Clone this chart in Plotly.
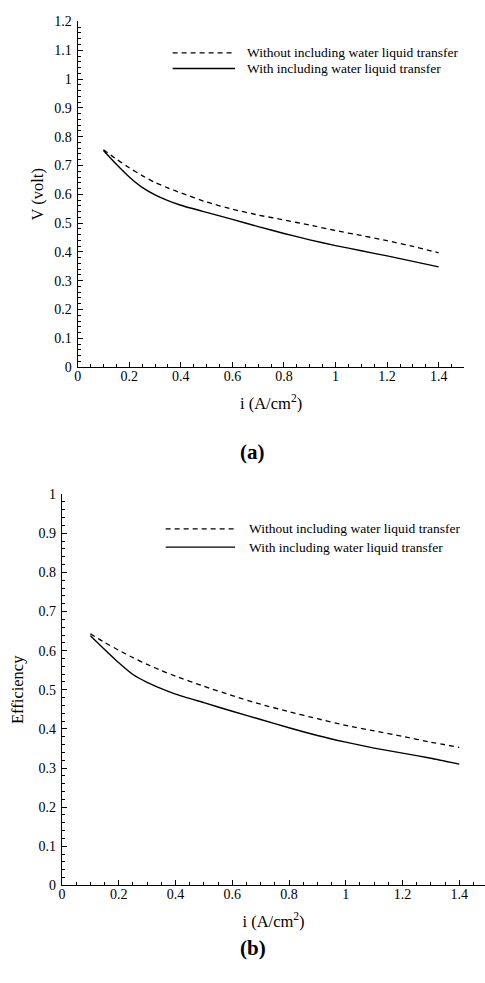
import plotly.graph_objects as go

# Current density (A/cm^2)
current = [0.1, 0.15, 0.2, 0.25, 0.3, 0.35, 0.4, 0.5, 0.6, 0.7, 0.8, 0.9, 1.0, 1.1, 1.2, 1.3, 1.4]

# (a) cell voltage (V)
volt_without = [0.755, 0.722, 0.692, 0.665, 0.641, 0.622, 0.605, 0.573, 0.548, 0.528, 0.511, 0.493, 0.474, 0.457, 0.439, 0.419, 0.397]
volt_with = [0.752, 0.704, 0.660, 0.624, 0.598, 0.578, 0.562, 0.537, 0.513, 0.488, 0.464, 0.442, 0.422, 0.404, 0.386, 0.367, 0.348]

# (b) efficiency
eff_without = [0.643, 0.621, 0.601, 0.582, 0.565, 0.549, 0.535, 0.509, 0.485, 0.463, 0.444, 0.426, 0.409, 0.395, 0.381, 0.366, 0.353]
eff_with = [0.638, 0.603, 0.569, 0.539, 0.519, 0.503, 0.489, 0.467, 0.445, 0.424, 0.403, 0.383, 0.366, 0.351, 0.338, 0.325, 0.310]

legend_labels = ["Without including water liquid transfer", "With including water liquid transfer"]

W, H = 485, 983
FONT = "Liberation Serif"

fig = go.Figure()

line_dash = dict(color="black", width=1.3, dash="5px,4px")
line_solid = dict(color="black", width=1.4)

for xs, ys, ln, xa, ya in (
    (current, volt_without, line_dash, "x", "y"),
    (current, volt_with, line_solid, "x", "y"),
    (current, eff_without, line_dash, "x2", "y2"),
    (current, eff_with, line_solid, "x2", "y2"),
):
    fig.add_trace(go.Scatter(x=xs, y=ys, mode="lines", line=dict(ln, shape="spline", smoothing=0.5),
                             xaxis=xa, yaxis=ya, showlegend=False, hoverinfo="skip"))


def px_x(p):
    return p / W


def px_y(p):
    return 1 - p / H


def axis_style(**kw):
    base = dict(
        showgrid=False, zeroline=False, showline=True, linecolor="black", linewidth=1.3,
        ticks="inside", ticklen=5, tickwidth=1.2, tickcolor="black",
        tickfont=dict(family=FONT, size=14, color="black"),
        title_font=dict(family=FONT, size=16.5, color="black"),
        fixedrange=True,
    )
    base.update(kw)
    return base


x_title = "i (A/cm<sup>2</sup>)"
minor_x = dict(dtick=0.05, ticks="inside", ticklen=3, tickcolor="black")
minor_y = dict(dtick=0.02, ticks="inside", ticklen=3, tickcolor="black")

fig.update_layout(
    width=W, height=H,
    margin=dict(l=0, r=0, t=0, b=0),
    paper_bgcolor="white", plot_bgcolor="white",
    xaxis=axis_style(domain=[px_x(74.3), px_x(464.3)], range=[0, 1.5], dtick=0.2,
                     minor=minor_x, ticklabelstandoff=-4,
                     anchor="y", title=dict(text=x_title, standoff=14)),
    yaxis=axis_style(domain=[px_y(365.7), px_y(14.7)], range=[0, 1.2], dtick=0.1,
                     minor=minor_y, ticklabelstandoff=2,
                     anchor="x", title=dict(text="V (volt)", standoff=6)),
    xaxis2=axis_style(domain=[px_x(58.5), 1.0], range=[0, (W - 58.5) / 286.1], dtick=0.2,
                      minor=minor_x, ticklabelstandoff=-4,
                      anchor="y2", title=dict(text=x_title, standoff=14)),
    yaxis2=axis_style(domain=[px_y(892), px_y(494.7)], range=[0, 1.0], dtick=0.1,
                      minor=minor_y, ticklabelstandoff=2,
                      anchor="x2", title=dict(text="Efficiency", standoff=10)),
)

# Panel captions
fig.add_annotation(text="<b>(a)</b>", x=px_x(250.7), y=px_y(452), xref="paper", yref="paper",
                   showarrow=False, font=dict(family=FONT, size=21, color="black"))
fig.add_annotation(text="<b>(b)</b>", x=px_x(251), y=px_y(970), xref="paper", yref="paper",
                   showarrow=False, font=dict(family=FONT, size=21, color="black"))

# Legends drawn as line samples with text next to them
legend_rows = [
    # (x0, x1, text_x, row1_y, row2_y)
    (170, 233, 243, 46.5, 62.5),
    (163, 233, 245, 530, 548.5),
]
for x0, x1, tx, y1, y2 in legend_rows:
    for yy, lab, st in ((y1, legend_labels[0], line_dash), (y2, legend_labels[1], line_solid)):
        fig.add_shape(type="line", xref="paper", yref="paper",
                      x0=px_x(x0), x1=px_x(x1), y0=px_y(yy), y1=px_y(yy),
                      line=dict(color="black", width=st["width"], dash=st.get("dash", "solid")))
        fig.add_annotation(text=lab, x=px_x(tx), y=px_y(yy), xref="paper", yref="paper",
                           xanchor="left", yanchor="middle", showarrow=False,
                           font=dict(family=FONT, size=13.5, color="black"))

fig.write_html("out.html")
